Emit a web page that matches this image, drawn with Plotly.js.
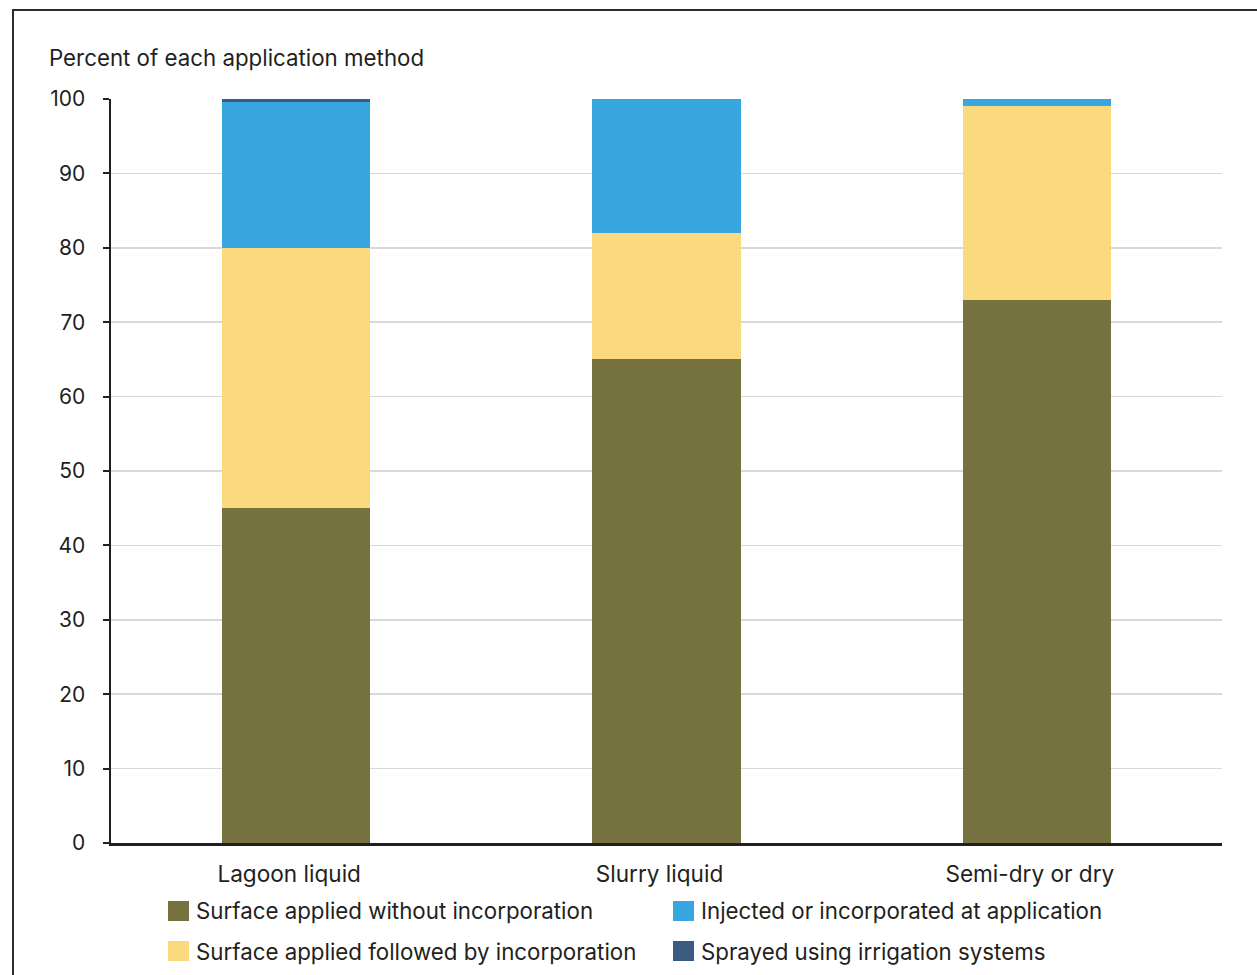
<!DOCTYPE html>
<html>
<head>
<meta charset="utf-8">
<script src="https://cdn.plot.ly/plotly-3.0.1.min.js"></script>
<style>
  html, body { margin: 0; padding: 0; background: #ffffff; }
  #wrap { position: relative; width: 1257px; height: 975px; overflow: hidden; }
  #chart { position: absolute; left: 0; top: 0; width: 1257px; height: 975px; }
  #frame { position: absolute; left: 12px; top: 9px; width: 1300px; height: 1000px;
           border-left: 2.5px solid #2b2b2b; border-top: 2.5px solid #2b2b2b; pointer-events: none; }
</style>
</head>
<body>
<div id="wrap">
  <div id="chart"></div>
  <div id="frame"></div>
</div>
<script>
// ---- data ----
const categories = ["Lagoon liquid", "Slurry liquid", "Semi-dry or dry"];
const surfaceWithout = [45, 65, 73];
const surfaceFollowed = [35, 17, 26];
const injected = [19.6, 18, 1];
const sprayed = [0.4, 0, 0];
const seriesNames = [
  "Surface applied without incorporation",
  "Surface applied followed by incorporation",
  "Injected or incorporated at application",
  "Sprayed using irrigation systems"
];
const seriesColors = ["#76723F", "#FAD97F", "#38A7DF", "#3A5A80"];
const yTickVals = [0, 10, 20, 30, 40, 50, 60, 70, 80, 90, 100];
const yTitle = "Percent of each application method";

const seriesValues = [surfaceWithout, surfaceFollowed, injected, sprayed];
const FONT = "Inter, Roboto, 'Noto Sans', sans-serif";
const TXT = "#231f20";
const FS = 22.3;

const traces = seriesValues.map((vals, i) => ({
  type: "bar",
  x: categories,
  y: vals,
  name: seriesNames[i],
  marker: { color: seriesColors[i], line: { width: 0 } },
  width: 0.4,
  showlegend: false,
  hoverinfo: "x+y+name"
}));

// plot area in pixels
const L = 111, R = 1222, T = 99, B = 843;
const W = 1257, H = 975;
const px = x => (x - L) / (R - L);
const py = y => (B - y) / (B - T);

// manual legend (2 columns, 2 rows)
const legendOrder = [0, 2, 1, 3];
const colX = [168, 673];
const rowY = [911, 951];
const shapes = [];
const annotations = [];
legendOrder.forEach((s, k) => {
  const col = k % 2, row = Math.floor(k / 2);
  const x0 = colX[col], yc = rowY[row];
  shapes.push({
    type: "rect", xref: "paper", yref: "paper",
    x0: px(x0), x1: px(x0 + 21), y0: py(yc + 10), y1: py(yc - 10),
    fillcolor: seriesColors[s], line: { width: 0 }
  });
  annotations.push({
    xref: "paper", yref: "paper", x: px(x0 + 26), y: py(yc),
    xanchor: "left", yanchor: "middle", showarrow: false,
    text: seriesNames[s], font: { family: FONT, size: FS, color: TXT }
  });
});
annotations.push({
  xref: "paper", yref: "paper", x: px(47), y: py(57),
  xanchor: "left", yanchor: "middle", showarrow: false,
  text: yTitle, font: { family: FONT, size: FS, color: TXT }
});

const layout = {
  width: W, height: H,
  margin: { l: L, r: W - R, t: T, b: H - B, pad: 0 },
  paper_bgcolor: "#ffffff", plot_bgcolor: "#ffffff",
  barmode: "stack",
  bargap: 0.6,
  font: { family: FONT, size: FS, color: TXT },
  xaxis: {
    type: "category",
    showline: true, linecolor: TXT, linewidth: 2.5,
    ticks: "", showgrid: false, zeroline: false,
    tickfont: { family: FONT, size: 22.6, color: TXT },
    ticklabelstandoff: 9,
    ticklabelshift: -7,
    fixedrange: true
  },
  yaxis: {
    range: [0, 100],
    tickvals: yTickVals,
    showline: true, linecolor: TXT, linewidth: 2.5,
    ticks: "outside", ticklen: 6, tickwidth: 2, tickcolor: TXT,
    showgrid: true, gridcolor: "#d9d9d9", gridwidth: 1.5,
    zeroline: false,
    tickfont: { family: FONT, size: 21, color: TXT },
    ticklabelstandoff: 13,
    fixedrange: true
  },
  shapes: shapes,
  annotations: annotations
};

Plotly.newPlot("chart", traces, layout, { displayModeBar: false, staticPlot: true });
</script>
</body>
</html>
